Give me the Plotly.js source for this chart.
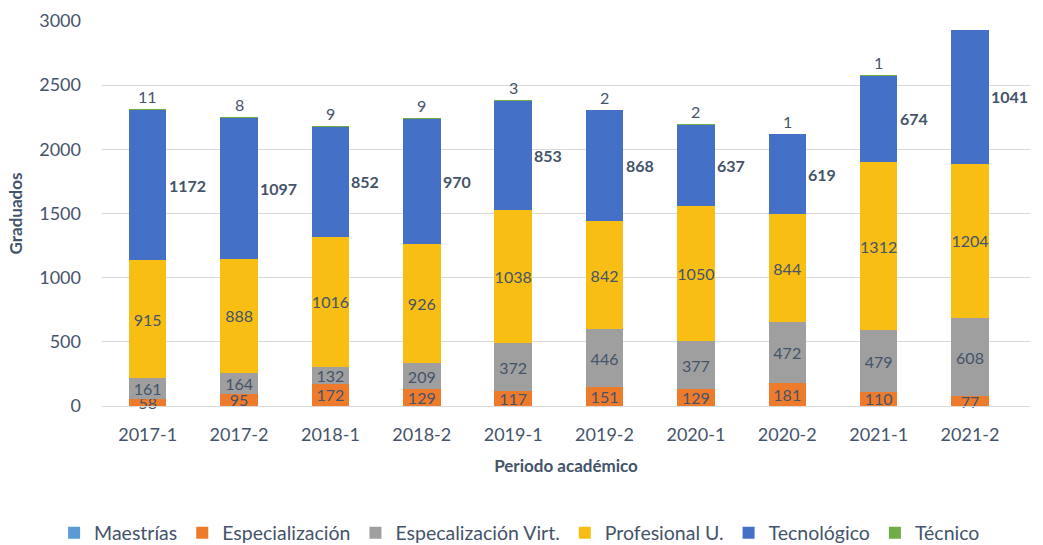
<!DOCTYPE html>
<html>
<head>
<meta charset="utf-8">
<script src="https://cdn.plot.ly/plotly-3.0.1.min.js"></script>
<style>html,body{margin:0;padding:0;background:#fff;}#chart{width:1043px;height:545px;}</style>
</head>
<body>
<div id="chart"></div>
<script>
const periods = ["2017-1","2017-2","2018-1","2018-2","2019-1","2019-2","2020-1","2020-2","2021-1","2021-2"];
const maestrias = [0,0,0,0,0,0,0,0,0,0];
const especializacion = [58,95,172,129,117,151,129,181,110,77];
const especVirt = [161,164,132,209,372,446,377,472,479,608];
const profesional = [915,888,1016,926,1038,842,1050,844,1312,1204];
const tecnologico = [1172,1097,852,970,853,868,637,619,674,1041];
const tecnico = [11,8,9,9,3,2,2,1,1,0];
const tecnicoLabels = ["11","8","9","9","3","2","2","1","1",""];

const labelColor = "#44546A";
const FONT = "Lato, 'Open Sans', sans-serif";

function barTrace(name, vals, color, showText) {
  return {
    type: "bar", name: name, x: periods, y: vals,
    marker: {color: color, line: {width: 0}},
    text: showText ? vals.map(String) : undefined,
    textposition: showText ? "inside" : "none",
    insidetextanchor: "middle",
    textangle: 0,
    constraintext: "none",
    cliponaxis: false,
    textfont: {family: FONT, size: 16, color: labelColor},
    hoverinfo: "x+y+name"
  };
}

const traces = [
  barTrace("Maestrías", maestrias, "#5B9BD5", false),
  barTrace("Especialización", especializacion, "#EE7B2C", true),
  barTrace("Especalización Virt.", especVirt, "#9F9F9F", true),
  barTrace("Profesional U.", profesional, "#F8BE14", true),
  barTrace("Tecnológico", tecnologico, "#4570C8", false),
  barTrace("Técnico", tecnico, "#70AD47", false)
];

const annotations = [];
periods.forEach((p, i) => {
  const base = maestrias[i] + especializacion[i] + especVirt[i] + profesional[i];
  annotations.push({
    x: p, y: base + tecnologico[i] / 2, xref: "x", yref: "y",
    text: "<b>" + tecnologico[i] + "</b>", showarrow: false,
    xanchor: "left", yanchor: "middle", xshift: 19,
    font: {family: FONT, size: 16, color: labelColor}
  });
  if (tecnicoLabels[i]) {
    annotations.push({
      x: p, y: base + tecnologico[i] + tecnico[i], xref: "x", yref: "y",
      text: tecnicoLabels[i], showarrow: false,
      xanchor: "center", yanchor: "bottom", yshift: 1,
      font: {family: FONT, size: 16, color: labelColor}
    });
  }
});

const layout = {
  width: 1043, height: 545,
  margin: {l: 102, r: 13, t: 21, b: 139, autoexpand: false},
  paper_bgcolor: "#fff", plot_bgcolor: "#fff",
  barmode: "stack", bargap: 0.59,
  font: {family: FONT, color: labelColor},
  showlegend: true,
  legend: {
    orientation: "h", x: 0.45, xanchor: "center", y: -0.33, yanchor: "middle",
    font: {family: FONT, size: 19.5, color: labelColor},
    itemwidth: 30, traceorder: "normal"
  },
  xaxis: {
    type: "category", tickfont: {family: FONT, size: 18, color: labelColor},
    showline: true, linecolor: "#D9D9D9", linewidth: 1, ticks: "",
    ticklabelstandoff: 12,
    title: {text: "<b>Periodo académico</b>", font: {family: FONT, size: 17, color: labelColor}, standoff: 16}
  },
  yaxis: {
    range: [0, 3000], dtick: 500, tickfont: {family: FONT, size: 18, color: labelColor},
    gridcolor: "#D9D9D9", gridwidth: 1, zeroline: false, ticks: "",
    ticklabelstandoff: 20,
    title: {text: "<b>Graduados</b>", font: {family: FONT, size: 17, color: labelColor}, standoff: 12}
  },
  annotations: annotations
};

Plotly.newPlot("chart", traces, layout, {displayModeBar: false, staticPlot: true});
</script>
</body>
</html>
